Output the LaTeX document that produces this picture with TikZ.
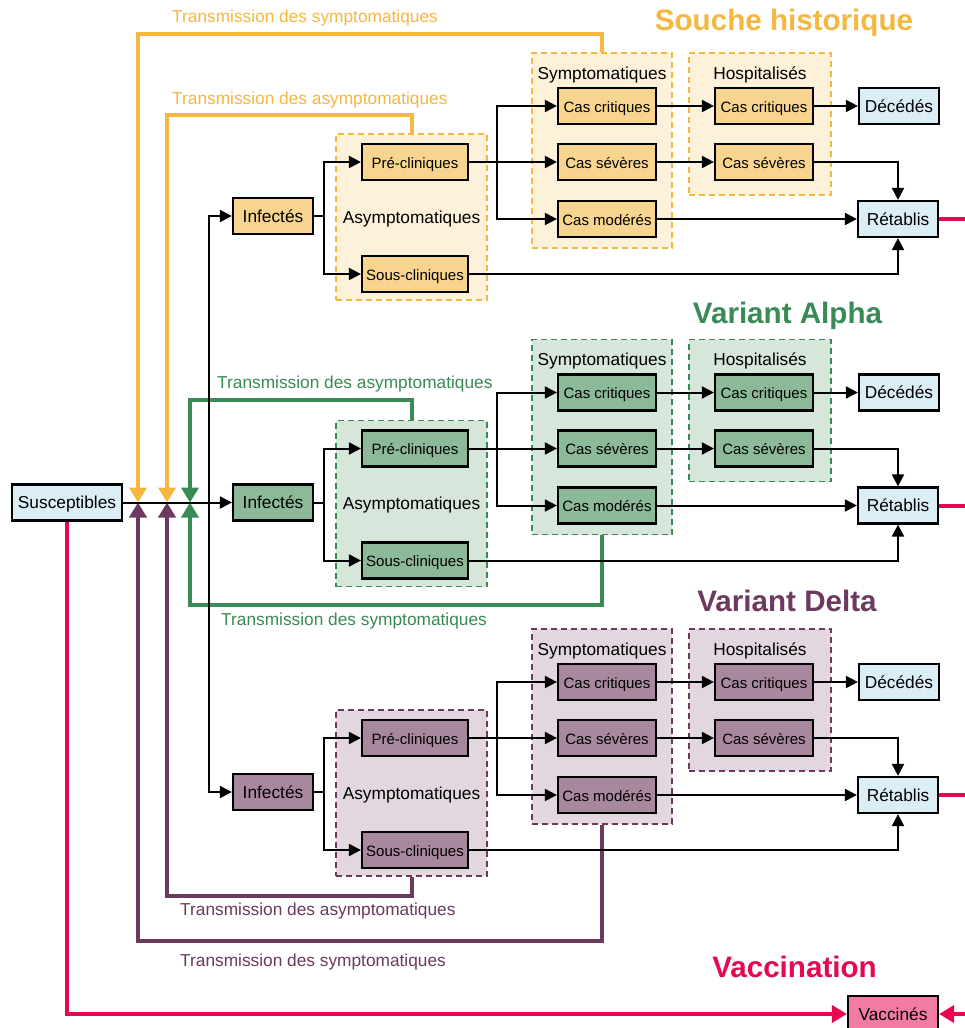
\documentclass[tikz,border=0pt]{standalone}
\usepackage{fontspec}
\setmainfont{Liberation Sans}
\usetikzlibrary{arrows.meta}
\definecolor{cOr}{HTML}{F5B740}
\definecolor{cOrBox}{HTML}{F8D58E}
\definecolor{cOrGrp}{HTML}{FDF1DA}
\definecolor{cGr}{HTML}{3A8A56}
\definecolor{cGrBox}{HTML}{8CBA98}
\definecolor{cGrGrp}{HTML}{D6E6DB}
\definecolor{cPu}{HTML}{6B3A5E}
\definecolor{cPuBox}{HTML}{A8889E}
\definecolor{cPuGrp}{HTML}{E2D7DE}
\definecolor{cRed}{HTML}{E8064E}
\definecolor{cVac}{HTML}{F27BA3}
\definecolor{cBlue}{HTML}{DCEEF5}

\tikzset{
  box/.style={draw=black, line width=2.2pt, inner sep=0pt, minimum height=36pt,
    text height=12.5pt, text depth=0.5pt, font=\fontsize{15}{18}\selectfont},
  sbox/.style={box, minimum width=106pt},
  cbox/.style={box, minimum width=98pt},
  mbox/.style={box, minimum width=80pt, font=\fontsize{17.3}{20}\selectfont,
    text height=14pt, text depth=1.4pt},
  grp/.style={dash pattern=on 6pt off 4pt, line width=1.8pt, inner sep=0pt,
    font=\fontsize{17.3}{20}\selectfont, text height=14pt, text depth=1.4pt},
  lbl/.style={font=\fontsize{17.3}{20}\selectfont, inner sep=0pt},
  ttl/.style={font=\fontsize{29.6}{34}\selectfont\bfseries, inner sep=0pt},
  ln/.style={line width=2pt},
  arr/.style={line width=2pt, -{Triangle[width=12pt,length=12pt]}},
  fb/.style={line width=4pt, draw=#1, -{Triangle[width=17pt,length=15pt]}},
  redln/.style={line width=4pt, draw=cRed},
  redarr/.style={redln, -{Triangle[width=17pt,length=15pt]}}
}

\newcommand\drawstage[5]{%
  \node[grp, draw=#5, fill=#4, minimum width=151pt, minimum height=166pt] (asym#1) at (411.5,217+#2) {Asymptomatiques};
  \node[grp, draw=#5, fill=#4, minimum width=140pt, minimum height=195pt] (sym#1) at (602,150.5+#2) {};
  \node[grp, draw=#5, fill=#4, minimum width=142pt, minimum height=142pt] (hosp#1) at (760,124+#2) {};
  \node[lbl, anchor=base] (symlbl#1) at (602,79+#2) {Symptomatiques};
  \node[lbl, anchor=base] (hosplbl#1) at (760,79+#2) {Hospitalisés};
  \node[mbox, fill=#3] (inf#1) at (273,216+#2) {Infectés};
  \node[sbox, fill=#3] (pre#1) at (415,162+#2) {Pré-cliniques};
  \node[sbox, fill=#3] (sous#1) at (415,274+#2) {Sous-cliniques};
  \node[cbox, fill=#3] (crit#1) at (607,106+#2) {Cas critiques};
  \node[cbox, fill=#3] (sev#1) at (607,162+#2) {Cas sévères};
  \node[cbox, fill=#3] (mod#1) at (607,219+#2) {Cas modérés};
  \node[cbox, fill=#3] (hcrit#1) at (764,106+#2) {Cas critiques};
  \node[cbox, fill=#3] (hsev#1) at (764,162+#2) {Cas sévères};
  \node[mbox, fill=cBlue] (dec#1) at (899,106+#2) {Décédés};
  \node[mbox, fill=cBlue] (ret#1) at (898,219+#2) {Rétablis};
}

\newcommand\stagelinks[1]{%
  \draw[ln] (inf#1.east) -- ++(10,0) coordinate (ib#1);
  \draw[arr] (ib#1) |- (pre#1.west);
  \draw[arr] (ib#1) |- (sous#1.west);
  \draw[arr] (pre#1.east) -- (sev#1.west);
  \draw[ln] (pre#1.east) -- ++(28,0) coordinate (pb#1);
  \draw[arr] (pb#1) |- (crit#1.west);
  \draw[arr] (pb#1) |- (mod#1.west);
  \draw[arr] (crit#1.east) -- (hcrit#1.west);
  \draw[arr] (sev#1.east) -- (hsev#1.west);
  \draw[arr] (hcrit#1.east) -- (dec#1.west);
  \draw[arr] (hsev#1.east) -| (ret#1.north);
  \draw[arr] (mod#1.east) -- (ret#1.west);
  \draw[arr] (sous#1.east) -| (ret#1.south);
  \draw[redln] (ret#1.east) -- ++(40,0);
}

\begin{document}
\begin{tikzpicture}[x=1pt,y=-1pt]
  \useasboundingbox (0,0) rectangle (964,1028);
  \fill[white] (0,0) rectangle (964,1028);

  \drawstage{T}{0}{cOrBox}{cOrGrp}{cOr}
  \drawstage{A}{286.5}{cGrBox}{cGrGrp}{cGr}
  \drawstage{D}{576}{cPuBox}{cPuGrp}{cPu}

  \node[mbox, minimum width=110pt, fill=cBlue] (sus) at (67,502.5) {Susceptibles};
  \node[mbox, minimum width=90pt, fill=cVac] (vac) at (893,1014) {Vaccinés};

  \coordinate (ja) at (138,502.5);
  \coordinate (jb) at (167,502.5);
  \coordinate (jc) at (190,502.5);
  \coordinate (split) at (209,502.5);

  % feedback (transmission) loops
  \draw[fb=cOr] (symT.north) -- ++(0,-18) -| (ja);
  \draw[fb=cOr] (asymT.north) -- ++(0,-18) -| (jb);
  \draw[fb=cGr] (asymA.north) -- ++(0,-20) -| (jc);
  \draw[fb=cGr] (symA.south) -- ++(0,69.5) -| (jc);
  \draw[fb=cPu] (asymD.south) -- ++(0,19) -| (jb);
  \draw[fb=cPu] (symD.south) -- ++(0,116) -| (ja);

  % infection flows
  \draw[arr] (sus.east) -- (infA.west);
  \draw[arr] (split) |- (infT.west);
  \draw[arr] (split) |- (infD.west);

  \stagelinks{T}
  \stagelinks{A}
  \stagelinks{D}

  % vaccination
  \draw[redarr] (sus.south) |- (vac.west);
  \draw[redarr] ([xshift=40pt]vac.east) -- (vac.east);

  % titles
  \node[ttl, text=cOr, anchor=base] (t1) at (784,30) {Souche historique};
  \node[ttl, text=cGr, anchor=base] (t2) at (787.5,323) {Variant Alpha};
  \node[ttl, text=cPu, anchor=base] (t3) at (787,611.5) {Variant Delta};
  \node[ttl, text=cRed, anchor=base] (t4) at (794.5,977.5) {Vaccination};

  % transmission labels
  \node[lbl, text=cOr, anchor=base west] (l1) at (172,22.7) {Transmission des symptomatiques};
  \node[lbl, text=cOr, anchor=base west] (l2) at (172,104) {Transmission des asymptomatiques};
  \node[lbl, text=cGr, anchor=base west] (l3) at (217,388.3) {Transmission des asymptomatiques};
  \node[lbl, text=cGr, anchor=base west] (l4) at (221,625.7) {Transmission des symptomatiques};
  \node[lbl, text=cPu, anchor=base west] (l5) at (180,915.7) {Transmission des asymptomatiques};
  \node[lbl, text=cPu, anchor=base west] (l6) at (180,966.7) {Transmission des symptomatiques};
\end{tikzpicture}
\end{document}
